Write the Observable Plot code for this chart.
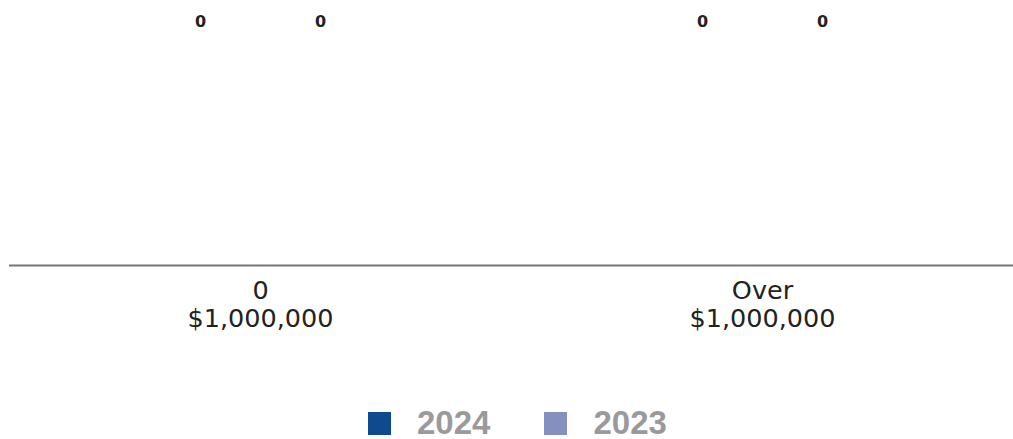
<!DOCTYPE html>
<html><head><meta charset="utf-8">
<script src="https://cdn.jsdelivr.net/npm/d3@7"></script>
<script src="https://cdn.jsdelivr.net/npm/@observablehq/plot@0.6"></script>
<style>
body{margin:0;background:#fff;font-family:"DejaVu Sans",sans-serif;}
#legend{display:flex;align-items:center;margin-top:59px;margin-left:368px;font-family:"Liberation Sans",Arial,sans-serif;font-weight:bold;font-size:33px;line-height:38px;color:#9a9a9c;}
.sw{width:23px;height:23px;display:inline-block;margin-right:26px;}
.item{display:flex;align-items:center;margin-right:54px;}
</style></head>
<body><div id="chart"></div><div id="legend"></div>
<script>
const categories = ["0\n$1,000,000", "Over\n$1,000,000"];
const series = ["2024", "2023"];
const values2024 = [0, 0];
const values2023 = [0, 0];
const colors = ["#0f4a8f", "#8590c0"];

const data = [];
categories.forEach((c, i) => {
  data.push({cat: c, year: "2024", value: values2024[i]});
  data.push({cat: c, year: "2023", value: values2023[i]});
});

const chart = Plot.plot({
  width: 1013,
  height: 345,
  marginLeft: 8,
  marginRight: 0,
  marginTop: 10,
  marginBottom: 80,
  style: {fontFamily: "DejaVu Sans, sans-serif", background: "#fff"},
  fx: {domain: categories, padding: 0, label: null, axis: null},
  x: {domain: series, paddingInner: 0, paddingOuter: 1.09, axis: null},
  y: {domain: [0, 1], axis: null},
  color: {domain: series, range: colors},
  marks: [
    Plot.barY(data, {fx: "cat", x: "year", y: "value", fill: "year"}),
    Plot.text(data, {fx: "cat", x: "year", text: d => String(d.value), frameAnchor: "top", lineAnchor: "top", dy: 5, fontSize: 16, fontWeight: "bold", fill: "#222"}),
    Plot.text(categories, {fx: d => d, text: d => d, frameAnchor: "bottom", lineAnchor: "top", dy: 13, fontSize: 25.5, fill: "#222", lineHeight: 1.12}),
    Plot.ruleY([0], {stroke: "#777", strokeWidth: 2})
  ]
});
document.getElementById("chart").appendChild(chart);

const lg = document.getElementById("legend");
series.forEach((s, i) => {
  const it = document.createElement("div"); it.className = "item";
  const sw = document.createElement("span"); sw.className = "sw"; sw.style.background = colors[i];
  it.appendChild(sw); it.appendChild(document.createTextNode(s));
  lg.appendChild(it);
});
</script></body></html>
